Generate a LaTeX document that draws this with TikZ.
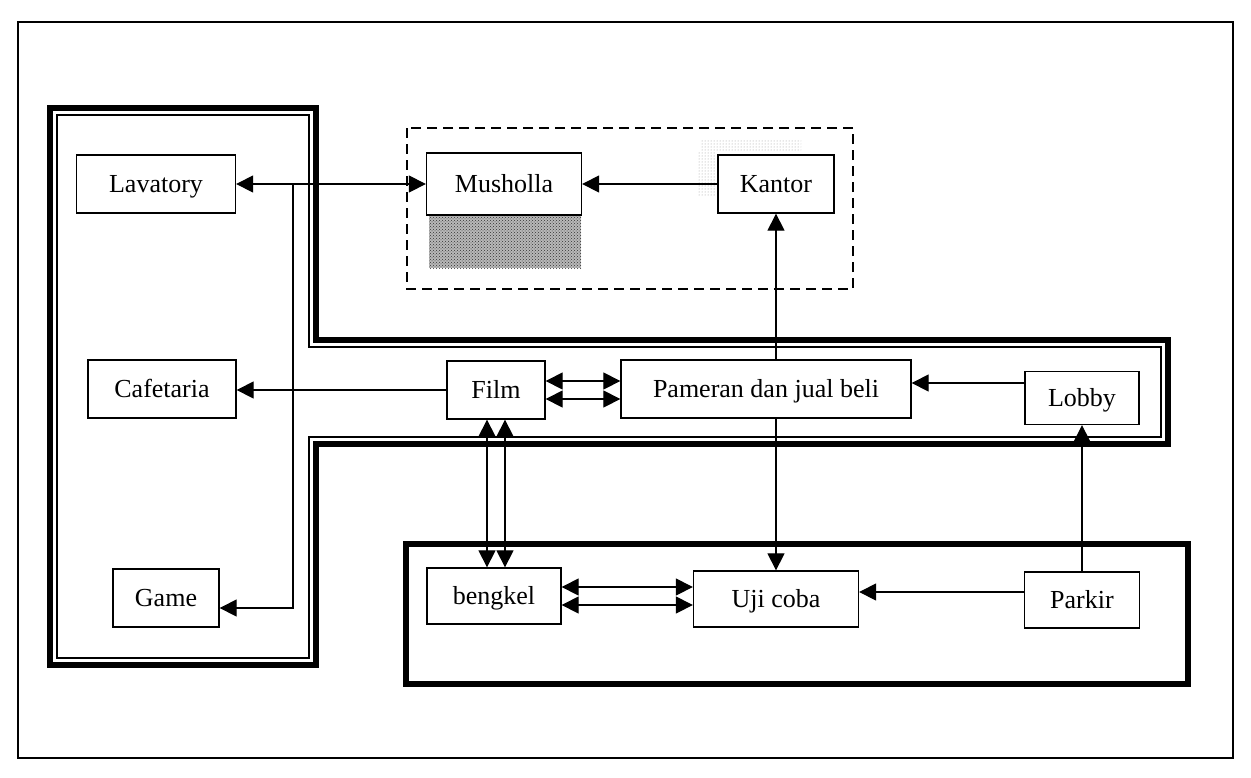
\documentclass[tikz,border=0pt]{standalone}
\usepackage{fontspec}
\setmainfont{Liberation Serif}
\usetikzlibrary{arrows.meta,patterns}
\begin{document}
\begin{tikzpicture}[x=1pt,y=-1pt,
  box/.style={draw,line width=1.3pt,fill=white,minimum height=58pt,inner sep=0pt,text height=21pt,text depth=5pt,font=\fontsize{26}{30}\selectfont},
  conn/.style={line width=1.2pt},
  arr/.style={conn,-{Triangle[length=17pt,width=17pt]}},
  arrboth/.style={conn,{Triangle[length=17pt,width=17pt]}-{Triangle[length=17pt,width=17pt]}},
  thickwall/.style={line width=6pt,line join=miter},
  thinwall/.style={line width=1.2pt},
  dashbox/.style={line width=1.4pt,dash pattern=on 10pt off 6pt},
]
\useasboundingbox (0,0) rectangle (1251,777);
% outer frame
\draw[line width=1.2pt] (18,22) rectangle (1233,758);
% T-shaped zone (double wall)
\draw[thickwall] (50,108) -- (316,108) -- (316,340) -- (1168,340) -- (1168,444) -- (316,444) -- (316,665) -- (50,665) -- cycle;
\draw[thinwall] (57,115) -- (309,115) -- (309,347) -- (1161,347) -- (1161,437) -- (309,437) -- (309,658) -- (57,658) -- cycle;
% lower zone
\draw[line width=6pt] (406,544) rectangle (1188,684);
% upper dashed zone
\draw[dashbox] (407,128) rectangle (853,289);
% stipple
\fill[black!28] (429,215) rectangle (581,268);
\fill[pattern=crosshatch dots,pattern color=black!80] (429,215) rectangle (581,268);
\fill[pattern=dots,pattern color=black!40] (700,140) rectangle (801,151);
\fill[pattern=dots,pattern color=black!40] (698,151) rectangle (716,195);
% nodes
\node[box,minimum width=159pt] (lav) at (156,184) {Lavatory};
\node[box,minimum width=155pt,minimum height=62pt] (mus) at (504,184) {Musholla};
\node[box,minimum width=116pt] (kan) at (776,184) {Kantor};
\node[box,minimum width=148pt] (caf) at (162,389) {Cafetaria};
\node[box,minimum width=98pt] (film) at (496,390) {Film};
\node[box,minimum width=290pt] (pam) at (766,389) {Pameran dan jual beli};
\node[box,minimum width=114pt,minimum height=53pt] (lob) at (1082,398) {Lobby};
\node[box,minimum width=106pt] (game) at (166,598) {Game};
\node[box,minimum width=134pt,minimum height=56pt] (beng) at (494,596) {bengkel};
\node[box,minimum width=165pt,minimum height=56pt] (uji) at (776,599) {Uji coba};
\node[box,minimum width=115pt,minimum height=56pt] (park) at (1082,600) {Parkir};
% connectors
\draw[arrboth] (lav.east) -- (mus.west);
\coordinate (jl) at (293,184);
\draw[arr] (jl) |- ([yshift=-10pt]game.east);
\draw[arr] (kan.west) -- (mus.east);
\draw[arr] (film.west) -- (film.west -| caf.east);
\draw[arrboth] ([yshift=9pt]film.east) -- ([yshift=9pt]film.east -| pam.west);
\draw[arrboth] ([yshift=-9pt]film.east) -- ([yshift=-9pt]film.east -| pam.west);
\draw[arr] ([yshift=6pt]pam.east -| lob.west) -- ([yshift=6pt]pam.east);
\draw[arr] (kan.south |- pam.north) -- (kan.south);
\draw[arr] (uji.north |- pam.south) -- (uji.north);
\draw[arr] (park.north) -- (lob.south);
\draw[arrboth] ([xshift=-9pt]film.south) -- ([xshift=-9pt]film.south |- beng.north);
\draw[arrboth] ([xshift=9pt]film.south) -- ([xshift=9pt]film.south |- beng.north);
\draw[arrboth] ([yshift=9pt]beng.east) -- ([yshift=9pt]beng.east -| uji.west);
\draw[arrboth] ([yshift=-9pt]beng.east) -- ([yshift=-9pt]beng.east -| uji.west);
\draw[arr] ([yshift=7pt]uji.east -| park.west) -- ([yshift=7pt]uji.east);
\end{tikzpicture}
\end{document}
